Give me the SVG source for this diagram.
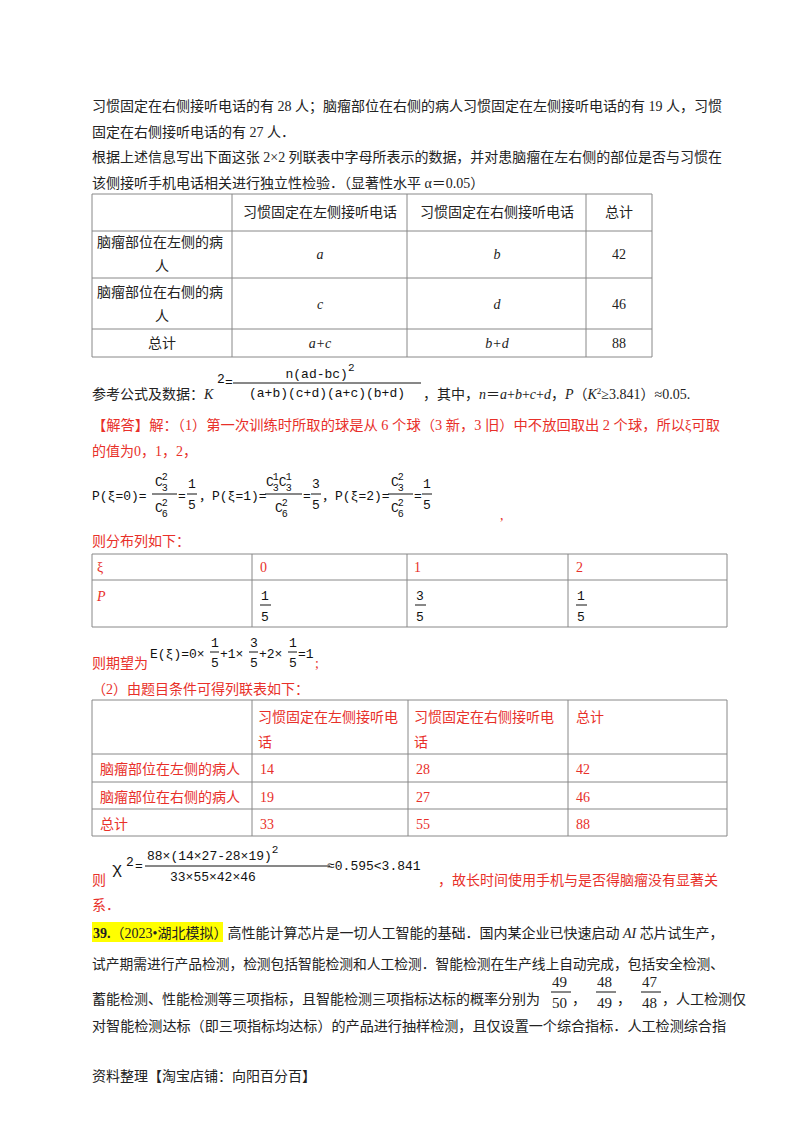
<svg xmlns="http://www.w3.org/2000/svg" width="800" height="1132" viewBox="0 0 800 1132">
<style>
text{font-family:"Liberation Serif","Noto Sans CJK SC",serif;font-size:14px;fill:#222}
.r{fill:#e8302a}
text.m,.m text{font-family:"Liberation Mono","Noto Sans CJK SC",monospace;font-size:13px;fill:#111}
.i{font-style:italic}
.c{text-anchor:middle}
.g line{stroke:#888;stroke-width:1}
.f{stroke:#111;stroke-width:1}
</style>
<rect width="800" height="1132" fill="#fff"/>
<text x="92" y="111" textLength="630" lengthAdjust="spacingAndGlyphs">习惯固定在右侧接听电话的有 28 人；脑瘤部位在右侧的病人习惯固定在左侧接听电话的有 19 人，习惯</text>
<text x="92" y="137">固定在右侧接听电话的有 27 人．</text>
<text x="92" y="162" textLength="630" lengthAdjust="spacingAndGlyphs">根据上述信息写出下面这张 2×2 列联表中字母所表示的数据，并对患脑瘤在左右侧的部位是否与习惯在</text>
<text x="92" y="188">该侧接听手机电话相关进行独立性检验．（显著性水平 α＝0.05）</text>
<g id="table1" class="g">
<line x1="92" y1="194" x2="652" y2="194"/><line x1="92" y1="231" x2="652" y2="231"/><line x1="92" y1="278" x2="652" y2="278"/><line x1="92" y1="329" x2="652" y2="329"/><line x1="92" y1="357" x2="652" y2="357"/>
<line x1="92" y1="194" x2="92" y2="357"/><line x1="232" y1="194" x2="232" y2="357"/><line x1="407" y1="194" x2="407" y2="357"/><line x1="586" y1="194" x2="586" y2="357"/><line x1="652" y1="194" x2="652" y2="357"/>
</g>
<text x="320" y="217" class="c">习惯固定在左侧接听电话</text><text x="497" y="217" class="c">习惯固定在右侧接听电话</text><text x="619" y="217" class="c">总计</text>
<text x="97" y="247">脑瘤部位在左侧的病</text><text x="162" y="271" class="c">人</text>
<text x="320" y="259" class="c i">a</text><text x="497" y="259" class="c i">b</text><text x="619" y="259" class="c">42</text>
<text x="97" y="297">脑瘤部位在右侧的病</text><text x="162" y="321" class="c">人</text>
<text x="320" y="309" class="c i">c</text><text x="497" y="309" class="c i">d</text><text x="619" y="309" class="c">46</text>
<text x="162" y="348" class="c">总计</text><text x="320" y="348" class="c i">a+c</text><text x="497" y="348" class="c i">b+d</text><text x="619" y="348" class="c">88</text>
<text x="92" y="399">参考公式及数据：<tspan class="i">K</tspan></text>
<text x="217" y="383" class="m">2</text><text x="225" y="386" class="m">=</text>
<line class="f" x1="233" y1="383" x2="421" y2="383"/>
<text x="320" y="378" class="m c">n(ad-bc)<tspan dy="-7" font-size="11">2</tspan></text>
<text x="327" y="397" class="m c">(a+b)(c+d)(a+c)(b+d)</text>
<text x="423" y="399">，其中，<tspan class="i">n</tspan>＝<tspan class="i">a</tspan>+<tspan class="i">b</tspan>+<tspan class="i">c</tspan>+<tspan class="i">d</tspan>，<tspan class="i">P</tspan>（<tspan class="i">K</tspan><tspan dy="-5" font-size="9">2</tspan><tspan dy="5">≥3.841）≈0.05.</tspan></text>
<text x="92" y="430" class="r" textLength="628" lengthAdjust="spacingAndGlyphs">【解答】解：（1）第一次训练时所取的球是从 6 个球（3 新，3 旧）中不放回取出 2 个球，所以ξ可取</text>
<text x="92" y="456" class="r">的值为0，1，2，</text>
<g class="m">
<text x="92" y="500">P(ξ=0)=</text><line class="f" x1="152" y1="494" x2="177" y2="494"/>
<text x="155" y="486">C<tspan dx="-1" dy="-6" font-size="10">2</tspan><tspan dx="-6" dy="11" font-size="10">3</tspan></text>
<text x="155" y="512">C<tspan dx="-1" dy="-6" font-size="10">2</tspan><tspan dx="-6" dy="11" font-size="10">6</tspan></text>
<text x="178" y="500">=</text><line class="f" x1="187" y1="494" x2="197" y2="494"/><text x="188" y="488">1</text><text x="188" y="509">5</text>
<text x="199" y="500">，P(ξ=1)=</text><line class="f" x1="265" y1="494" x2="302" y2="494"/>
<text x="266" y="486">C<tspan dx="-1" dy="-6" font-size="10">1</tspan><tspan dx="-6" dy="11" font-size="10">3</tspan><tspan dy="-5">C</tspan><tspan dx="-1" dy="-6" font-size="10">1</tspan><tspan dx="-6" dy="11" font-size="10">3</tspan></text>
<text x="275" y="512">C<tspan dx="-1" dy="-6" font-size="10">2</tspan><tspan dx="-6" dy="11" font-size="10">6</tspan></text>
<text x="303" y="500">=</text><line class="f" x1="311" y1="494" x2="321" y2="494"/><text x="312" y="488">3</text><text x="312" y="509">5</text>
<text x="322" y="500">，P(ξ=2)=</text><line class="f" x1="388" y1="494" x2="413" y2="494"/>
<text x="391" y="486">C<tspan dx="-1" dy="-6" font-size="10">2</tspan><tspan dx="-6" dy="11" font-size="10">3</tspan></text>
<text x="391" y="512">C<tspan dx="-1" dy="-6" font-size="10">2</tspan><tspan dx="-6" dy="11" font-size="10">6</tspan></text>
<text x="414" y="500">=</text><line class="f" x1="422" y1="494" x2="432" y2="494"/><text x="423" y="488">1</text><text x="423" y="509">5</text>
</g>
<text x="500" y="520" class="r">,</text>
<text x="92" y="546" class="r">则分布列如下：</text>
<g id="table2" class="g">
<line x1="92" y1="554" x2="727" y2="554"/><line x1="92" y1="580" x2="727" y2="580"/><line x1="92" y1="627" x2="727" y2="627"/>
<line x1="92" y1="554" x2="92" y2="627"/><line x1="252" y1="554" x2="252" y2="627"/><line x1="407" y1="554" x2="407" y2="627"/><line x1="568" y1="554" x2="568" y2="627"/><line x1="727" y1="554" x2="727" y2="627"/>
</g>
<text x="97" y="572" class="r">ξ</text><text x="260" y="572" class="r">0</text><text x="414" y="572" class="r">1</text><text x="576" y="572" class="r">2</text>
<text x="97" y="601" class="r i">P</text>
<g class="m"><line class="f" x1="260" y1="605" x2="271" y2="605"/><text x="261" y="600">1</text><text x="261" y="621">5</text>
<line class="f" x1="415" y1="605" x2="426" y2="605"/><text x="416" y="600">3</text><text x="416" y="621">5</text>
<line class="f" x1="576" y1="605" x2="587" y2="605"/><text x="577" y="600">1</text><text x="577" y="621">5</text></g>
<text x="92" y="668" class="r">则期望为</text>
<g class="m"><text x="150" y="658">E(ξ)=0×</text><line class="f" x1="210" y1="652" x2="219" y2="652"/><text x="211" y="647">1</text><text x="211" y="667">5</text>
<text x="220" y="658">+1×</text><line class="f" x1="249" y1="652" x2="258" y2="652"/><text x="250" y="647">3</text><text x="250" y="667">5</text>
<text x="259" y="658">+2×</text><line class="f" x1="288" y1="652" x2="297" y2="652"/><text x="289" y="647">1</text><text x="289" y="667">5</text>
<text x="298" y="658">=1</text></g>
<text x="315" y="668" class="r">;</text>
<text x="92" y="694" class="r">（2）由题目条件可得列联表如下：</text>
<g id="table3" class="g">
<line x1="92" y1="700" x2="727" y2="700"/><line x1="92" y1="754" x2="727" y2="754"/><line x1="92" y1="782" x2="727" y2="782"/><line x1="92" y1="809" x2="727" y2="809"/><line x1="92" y1="836" x2="727" y2="836"/>
<line x1="92" y1="700" x2="92" y2="836"/><line x1="252" y1="700" x2="252" y2="836"/><line x1="408" y1="700" x2="408" y2="836"/><line x1="568" y1="700" x2="568" y2="836"/><line x1="727" y1="700" x2="727" y2="836"/>
</g>
<text x="258" y="722" class="r">习惯固定在左侧接听电</text><text x="258" y="747" class="r">话</text>
<text x="414" y="722" class="r">习惯固定在右侧接听电</text><text x="414" y="747" class="r">话</text>
<text x="576" y="722" class="r">总计</text>
<text x="100" y="774" class="r">脑瘤部位在左侧的病人</text><text x="260" y="774" class="r">14</text><text x="416" y="774" class="r">28</text><text x="576" y="774" class="r">42</text>
<text x="100" y="802" class="r">脑瘤部位在右侧的病人</text><text x="260" y="802" class="r">19</text><text x="416" y="802" class="r">27</text><text x="576" y="802" class="r">46</text>
<text x="100" y="829" class="r">总计</text><text x="260" y="829" class="r">33</text><text x="416" y="829" class="r">55</text><text x="576" y="829" class="r">88</text>
<text x="92" y="885" class="r">则</text>
<g class="m"><text x="112" y="874" style="font-size:17px">χ</text><text x="126" y="866">2</text><text x="135" y="870">=</text>
<line class="f" x1="145" y1="866" x2="330" y2="866"/>
<text x="147" y="860">88×(14×27-28×19)<tspan dy="-7" font-size="11">2</tspan></text>
<text x="170" y="881">33×55×42×46</text>
<text x="327" y="870">≈0.595&lt;3.841</text></g>
<text x="438" y="885" class="r">，故长时间使用手机与是否得脑瘤没有显著关</text>
<text x="92" y="910" class="r">系．</text>
<rect x="92" y="922" width="131" height="20" fill="#ffff00"/>
<text x="93" y="938"><tspan font-weight="bold">39.</tspan>（2023•湖北模拟）高性能计算芯片是一切人工智能的基础．国内某企业已快速启动 <tspan class="i">AI</tspan> 芯片试生产，</text>
<text x="92" y="969" textLength="632" lengthAdjust="spacingAndGlyphs">试产期需进行产品检测，检测包括智能检测和人工检测．智能检测在生产线上自动完成，包括安全检测、</text>
<text x="92" y="1004">蓄能检测、性能检测等三项指标，且智能检测三项指标达标的概率分别为</text>
<line class="f" x1="551" y1="992" x2="571" y2="992"/><text x="552" y="987" style="font-size:15px">49</text><text x="552" y="1008" style="font-size:15px">50</text>
<text x="572" y="1004">，</text>
<line class="f" x1="596" y1="992" x2="616" y2="992"/><text x="597" y="987" style="font-size:15px">48</text><text x="597" y="1008" style="font-size:15px">49</text>
<text x="617" y="1004">，</text>
<line class="f" x1="641" y1="992" x2="661" y2="992"/><text x="642" y="987" style="font-size:15px">47</text><text x="642" y="1008" style="font-size:15px">48</text>
<text x="662" y="1004">，人工检测仅</text>
<text x="92" y="1031" textLength="634" lengthAdjust="spacingAndGlyphs">对智能检测达标（即三项指标均达标）的产品进行抽样检测，且仅设置一个综合指标．人工检测综合指</text>
<text x="92" y="1081" font-size="12.5">资料整理【淘宝店铺：向阳百分百】</text>
</svg>
